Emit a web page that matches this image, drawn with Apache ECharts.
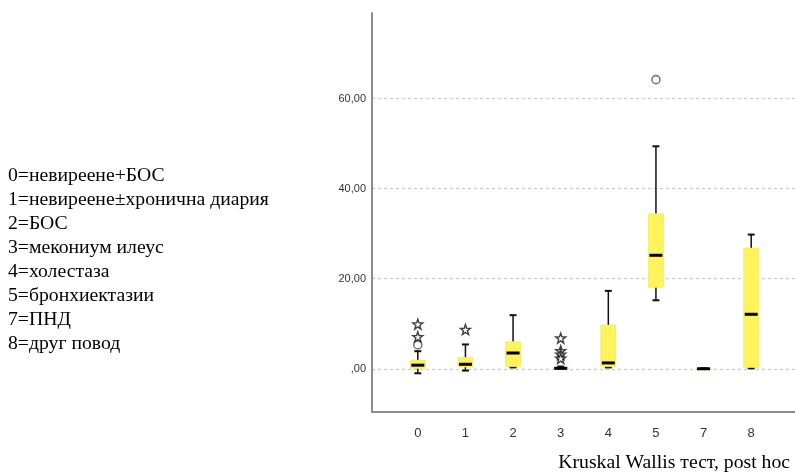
<!DOCTYPE html>
<html>
<head>
<meta charset="utf-8">
<script src="https://cdn.jsdelivr.net/npm/echarts@6/dist/echarts.min.js"></script>
<style>html,body{margin:0;padding:0;background:#fff;}#c{width:795px;height:472px;}</style>
</head>
<body>
<div id="c"></div>
<script>
const categories = ['0', '1', '2', '3', '4', '5', '7', '8'];
const lowerWhisker = [-1.0, -0.4, 0.3, 0.0, 0.3, 15.2, 0.0, 0.1];
const q1Values = [0.1, 0.4, 0.5, -0.1, 0.5, 18.1, -0.1, 0.3];
const medianValues = [0.8, 1.0, 3.5, 0.1, 1.3, 25.2, 0.0, 12.1];
const q3Values = [1.9, 2.5, 6.0, 0.3, 9.7, 34.4, 0.1, 26.8];
const upperWhisker = [3.9, 5.4, 11.9, 0.5, 17.3, 49.4, 0.1, 29.8];
const circleOutliers = [['0', 5.3], ['5', 64.2]];
const starOutliers = [['0', 7.1], ['0', 9.9], ['1', 8.7], ['3', 6.8], ['3', 4.0], ['3', 3.2], ['3', 2.3]];
const legendLines = ['0=невиреене+БОС', '1=невиреене±хронична диария', '2=БОС', '3=мекониум илеус', '4=холестаза', '5=бронхиектазии', '7=ПНД', '8=друг повод'];
const caption = 'Kruskal Wallis тест, post hoc';
const yMin = -9.6, yMax = 79;

const boxData = categories.map((c, i) => [i, lowerWhisker[i], q1Values[i], medianValues[i], q3Values[i], upperWhisker[i]]);
const starPath = 'path://M0,-10 L2.35,-3.24 L9.51,-3.09 L3.80,1.24 L5.88,8.09 L0,4 L-5.88,8.09 L-3.80,1.24 L-9.51,-3.09 L-2.35,-3.24 Z';
const serif = '"Liberation Serif", "Times New Roman", serif';

const chart = echarts.init(document.getElementById('c'), null, {renderer: 'canvas'});
const option = {
  backgroundColor: '#fff',
  animation: false,
  grid: [
    {left: 372, right: 0, top: 13, bottom: 60},
    {left: 394, right: 20, top: 13, bottom: 60}
  ],
  xAxis: [
    {gridIndex: 0, type: 'value', min: 0, max: 1,
     axisLine: {show: true, onZero: false, lineStyle: {color: '#8c8c8c', width: 2}},
     axisTick: {show: false}, axisLabel: {show: false}, splitLine: {show: false}},
    {gridIndex: 1, type: 'category', data: categories,
     axisLine: {show: false}, axisTick: {show: false},
     axisLabel: {color: '#333', fontSize: 13, fontFamily: 'Liberation Sans, Arial, sans-serif', margin: 15},
     splitLine: {show: false}}
  ],
  yAxis: [
    {gridIndex: 0, type: 'value', min: yMin, max: yMax,
     axisLine: {show: true, lineStyle: {color: '#8c8c8c', width: 2}},
     axisTick: {show: false},
     axisLabel: {color: '#333', fontSize: 11, fontFamily: 'Liberation Sans, Arial, sans-serif', margin: 6,
       showMinLabel: false, showMaxLabel: false,
       formatter: v => (v === 0 ? ',00' : v.toFixed(2).replace('.', ','))},
     splitLine: {show: true, showMinLine: false, showMaxLine: false,
       lineStyle: {color: '#c8c8c8', type: [3, 3], width: 1.2}}},
    {gridIndex: 1, type: 'value', min: yMin, max: yMax, show: false,
     axisLine: {show: false}, axisTick: {show: false}, axisLabel: {show: false}, splitLine: {show: false}}
  ],
  series: [
    {
      type: 'custom', xAxisIndex: 1, yAxisIndex: 1, data: boxData,
      encode: {x: 0, y: [1, 2, 3, 4, 5]},
      renderItem: function (params, api) {
        const x = api.value(0);
        const lo = api.coord([x, api.value(1)]);
        const q1 = api.coord([x, api.value(2)]);
        const med = api.coord([x, api.value(3)]);
        const q3 = api.coord([x, api.value(4)]);
        const hi = api.coord([x, api.value(5)]);
        const cx = lo[0];
        const bw = 15, cap = 7, mw = 13;
        const wStyle = {stroke: '#111', lineWidth: 1.5};
        const cStyle = {stroke: '#111', lineWidth: 2};
        return {type: 'group', children: [
          {type: 'line', shape: {x1: cx, y1: hi[1], x2: cx, y2: q3[1]}, style: wStyle},
          {type: 'line', shape: {x1: cx, y1: q1[1], x2: cx, y2: lo[1]}, style: wStyle},
          {type: 'line', shape: {x1: cx - cap / 2, y1: hi[1], x2: cx + cap / 2, y2: hi[1]}, style: cStyle},
          {type: 'line', shape: {x1: cx - cap / 2, y1: lo[1], x2: cx + cap / 2, y2: lo[1]}, style: cStyle},
          {type: 'rect', shape: {x: cx - bw / 2, y: q3[1], width: bw, height: Math.max(q1[1] - q3[1], 0.5)},
           style: {fill: '#fff35c', stroke: '#f3e24c', lineWidth: 0.6}},
          {type: 'line', shape: {x1: cx - mw / 2, y1: med[1], x2: cx + mw / 2, y2: med[1]},
           style: {stroke: '#000', lineWidth: 3}}
        ]};
      },
      z: 3
    },
    {
      type: 'scatter', xAxisIndex: 1, yAxisIndex: 1, data: circleOutliers,
      symbol: 'circle', symbolSize: 8,
      itemStyle: {color: '#fff', borderColor: '#555', borderWidth: 1.6}, z: 4
    },
    {
      type: 'scatter', xAxisIndex: 1, yAxisIndex: 1, data: starOutliers,
      symbol: starPath, symbolSize: [10, 10],
      itemStyle: {color: '#fff', borderColor: '#111', borderWidth: 1.4}, z: 5
    }
  ],
  graphic: [
    ...legendLines.map((t, i) => ({
      type: 'text', x: 8, y: 176 + i * 24,
      style: {text: t, fill: '#000', font: '19.7px ' + serif, verticalAlign: 'middle', align: 'left'}
    })),
    {type: 'text', x: 790, y: 463,
     style: {text: caption, fill: '#000', font: '19.7px ' + serif, verticalAlign: 'middle', align: 'right'}}
  ]
};
chart.setOption(option);
</script>
</body>
</html>
